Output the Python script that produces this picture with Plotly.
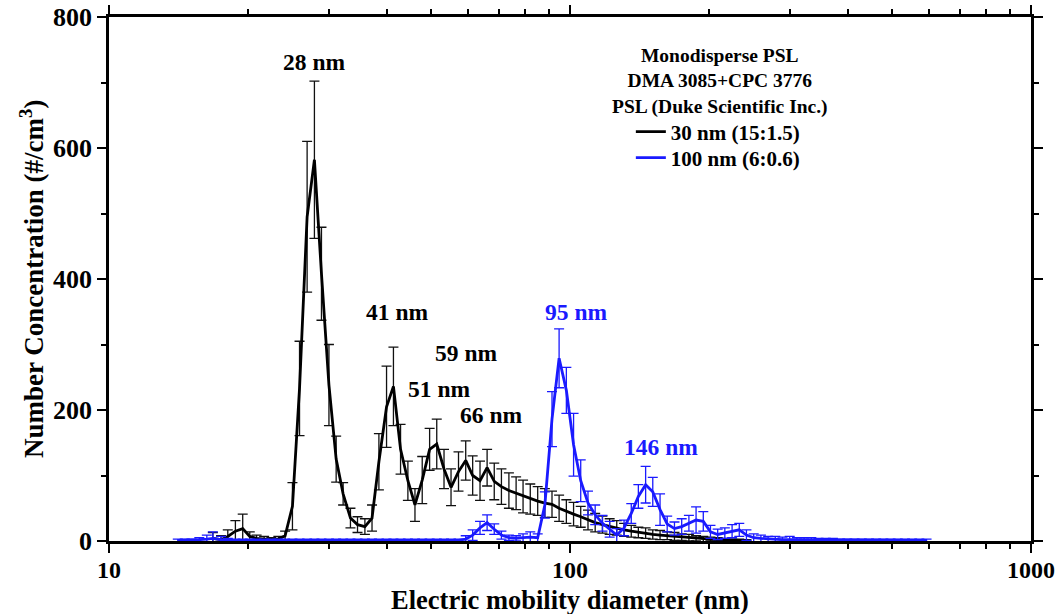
import math
import plotly.graph_objects as go

# ---- data ----
d_black = [16.8, 17.5, 18.1, 18.8, 19.5, 20.2, 20.9, 21.7, 22.5, 23.3, 24.1, 25.0, 25.9, 26.9,
           27.9, 28.9, 30.0, 31.1, 32.2, 33.4, 34.6, 35.9, 37.2, 38.5, 40.0, 41.4, 42.9, 44.5,
           46.1, 47.8, 49.6, 51.4, 53.3, 55.2, 57.3, 59.4, 61.5, 63.8, 66.1, 68.5, 71.0, 73.7,
           76.4, 79.1, 82.0, 85.1, 88.2, 91.4, 94.7, 98.2, 101.8, 105.5, 109.4, 113.4, 117.6,
           121.9, 126.3, 131.0, 135.8, 140.7, 145.9, 151.2, 156.8, 162.5, 168.5, 174.7, 181.1,
           187.7, 194.6, 201.7, 209.1, 216.7, 224.7, 232.9, 241.4]
n_black = [4, 2, 7, 15, 19, 7, 4, 3, 2, 3, 8, 53, 233, 495,
           582, 408, 238, 125, 72, 35, 25, 22, 35, 121, 205, 236, 140, 92,
           55, 93, 140, 148, 110, 82, 106, 123, 100, 92, 112, 91, 83, 77,
           73, 68, 64, 61, 58, 56, 50, 45, 41, 37, 32, 28, 25,
           22, 20, 17, 15, 13, 12, 10, 9, 8, 7, 6, 5,
           4, 3, 3, 2, 2, 1, 1, 1]
e_black = [9, 6, 10, 16, 22, 7, 5, 4, 3, 4, 7, 36, 72, 115,
           120, 71, 62, 35, 17, 15, 12, 12, 20, 43, 62, 60, 38, 30,
           25, 36, 32, 38, 30, 28, 30, 30, 30, 30, 28, 28, 27, 27,
           25, 25, 23, 22, 22, 20, 20, 18, 18, 16, 15, 14, 13,
           12, 11, 10, 9, 8, 8, 7, 7, 6, 6, 5, 5,
           4, 4, 3, 3, 2, 2, 2, 1]

d_blue = [14.1, 14.6, 15.1, 15.7, 16.3, 16.8, 17.5, 18.1, 18.8, 19.5, 20.2, 20.9, 21.7, 22.5,
          23.3, 24.1, 25.0, 25.9, 26.9, 27.9, 28.9, 30.0, 31.1, 32.2, 33.4, 34.6, 35.9, 37.2,
          38.5, 40.0, 41.4, 42.9, 44.5, 46.1, 47.8, 49.6, 51.4, 53.3, 55.2, 57.3, 59.4, 61.5,
          63.8, 66.1, 68.5, 71.0, 73.7, 76.4, 79.1, 82.0, 85.1, 88.2, 91.4, 94.7, 98.2, 101.8,
          105.5, 109.4, 113.4, 117.6, 121.9, 126.3, 131.0, 135.8, 140.7, 145.9, 151.2, 156.8,
          162.5, 168.5, 174.7, 181.1, 187.7, 194.6, 201.7, 209.1, 216.7, 224.7, 232.9, 241.4,
          250.3, 259.5, 269.0, 278.8, 289.0, 299.6, 310.6, 322.0, 333.8, 346.0, 358.7, 371.8,
          385.4, 399.5, 414.2, 429.4, 445.1, 461.4, 478.3, 495.8, 514.0, 532.8, 552.3, 572.5,
          593.5]
n_blue = [1, 1, 1, 2, 3, 4, 2, 1, 1, 1, 1, 1, 1, 1,
          1, 1, 1, 1, 1, 1, 1, 1, 1, 1, 1, 1, 1, 1,
          1, 1, 1, 1, 1, 1, 1, 1, 1, 1, 1, 1, 3, 9,
          20, 28, 18, 9, 5, 4, 5, 6, 5, 55, 186, 279, 230, 147,
          92, 58, 40, 27, 18, 9, 20, 42, 68, 86, 75, 48,
          26, 19, 22, 27, 32, 30, 14, 10, 12, 15, 17, 9,
          5, 4, 3, 3, 2, 2, 2, 2, 2, 1, 1, 1,
          1, 1, 1, 1, 1, 1, 1, 1, 1, 1, 1, 1,
          1]
e_blue = [2, 2, 2, 3, 6, 10, 5, 3, 2, 2, 2, 2, 2, 2,
          2, 2, 2, 2, 2, 2, 2, 2, 2, 2, 2, 2, 2, 2,
          2, 2, 2, 2, 2, 2, 2, 2, 2, 2, 2, 2, 5, 8,
          10, 12, 8, 6, 4, 4, 6, 8, 6, 20, 42, 45, 35, 48,
          32, 18, 15, 12, 12, 10, 12, 15, 18, 28, 22, 24,
          12, 10, 12, 12, 20, 15, 10, 8, 8, 10, 10, 8,
          6, 5, 4, 4, 4, 5, 3, 3, 3, 3, 3, 3,
          2, 2, 2, 2, 2, 2, 2, 2, 2, 2, 2, 2,
          2]

name_black = "30 nm (15:1.5)"
name_blue = "100 nm (6:0.6)"
header_text = "Monodisperse PSL<br>DMA 3085+CPC 3776<br>PSL (Duke Scientific Inc.)"
x_title = "Electric mobility diameter (nm)"
y_title = "Number Concentration (#/cm<sup>3</sup>)"

peak_labels = ["28 nm", "41 nm", "59 nm", "51 nm", "66 nm", "95 nm", "146 nm"]
peak_x = [27.85, 42.1, 59.5, 52.0, 67.4, 103.0, 157.5]
peak_y = [731, 350, 287, 232, 192, 350, 144]
peak_col = ["black", "black", "black", "black", "black", "#1a1aff", "#1a1aff"]

xtick_vals = [10, 100, 1000]
ytick_vals = [0, 200, 400, 600, 800]

FONT = "Liberation Serif"
BLUE = "#1a1aff"

fig = go.Figure()
fig.add_trace(go.Scatter(
    x=d_black, y=n_black, mode="lines", name=name_black, legend="legend",
    line=dict(color="black", width=2.8),
    error_y=dict(type="data", array=e_black, visible=True, color="#111111",
                 thickness=1.3, width=5),
))
fig.add_trace(go.Scatter(
    x=d_blue, y=n_blue, mode="lines", name=name_blue, legend="legend2",
    line=dict(color=BLUE, width=2.8),
    error_y=dict(type="data", array=e_blue, visible=True, color=BLUE,
                 thickness=1.3, width=5),
))

for t, x, y, c in zip(peak_labels, peak_x, peak_y, peak_col):
    fig.add_annotation(x=math.log10(x), y=y, text=t, showarrow=False,
                       font=dict(family=FONT, size=23.5, color=c, weight="bold"))

fig.add_annotation(xref="paper", yref="paper", x=0.6627, y=0.876,
                   text=header_text, showarrow=False, align="center",
                   xanchor="center", yanchor="middle",
                   font=dict(family=FONT, size=19.5, color="black", weight="bold"))

# axis titles
fig.add_annotation(xref="paper", yref="paper", x=0.5, y=(541 - 600) / 524,
                   text=x_title, showarrow=False, xanchor="center", yanchor="middle",
                   font=dict(family=FONT, size=26.5, color="black", weight="bold"))
fig.add_annotation(xref="paper", yref="paper", x=(32 - 109) / 922, y=0.5,
                   text=y_title, showarrow=False, textangle=-90,
                   xanchor="center", yanchor="middle",
                   font=dict(family=FONT, size=27, color="black", weight="bold"))

leg_common = dict(xanchor="left", yanchor="middle", bgcolor="rgba(0,0,0,0)",
                  font=dict(family=FONT, size=21, color="black", weight="bold"))

fig.update_layout(
    width=1062, height=614,
    margin=dict(l=109, r=31, t=17, b=73),
    paper_bgcolor="white", plot_bgcolor="white",
    font=dict(family=FONT, color="black", weight="bold"),
    showlegend=True,
    legend=dict(x=0.566, y=(541 - 132) / 524, **leg_common),
    legend2=dict(x=0.566, y=(541 - 158) / 524, **leg_common),
    xaxis=dict(
        type="log", range=[1, 3], automargin=False,
        tickvals=xtick_vals, ticktext=[str(v) for v in xtick_vals],
        ticks="outside", ticklen=9, tickwidth=2.2, tickcolor="black",
        showline=True, linewidth=2.6, linecolor="black", mirror="ticks",
        showgrid=False, zeroline=False, ticklabelstandoff=-4,
        tickfont=dict(family=FONT, size=24, color="black", weight="bold"),
        minor=dict(ticks="outside", ticklen=5, tickwidth=2, tickcolor="black",
                   dtick="D1", showgrid=False),
    ),
    yaxis=dict(
        range=[0, 800], automargin=False,
        tickvals=ytick_vals,
        ticks="outside", ticklen=9, tickwidth=2.2, tickcolor="black",
        showline=True, linewidth=2.6, linecolor="black", mirror="ticks",
        showgrid=False, zeroline=False,
        tickfont=dict(family=FONT, size=26, color="black", weight="bold"),
        minor=dict(ticks="outside", ticklen=5, tickwidth=2, tickcolor="black",
                   dtick=100, showgrid=False),
    ),
)

fig.write_html("out.html")
